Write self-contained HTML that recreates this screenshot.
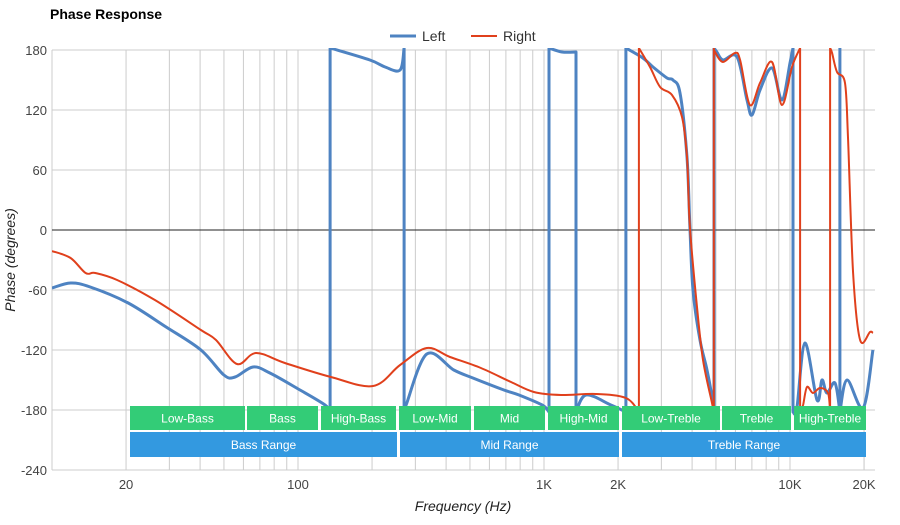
<!DOCTYPE html>
<html><head><meta charset="utf-8"><style>
body{margin:0;background:#fff;font-family:"Liberation Sans",Arial,sans-serif;}
svg text{font-family:"Liberation Sans",Arial,sans-serif;}
</style></head><body>
<svg id="chart" width="900" height="520" viewBox="0 0 900 520" xmlns="http://www.w3.org/2000/svg">
<text x="50" y="19" font-size="14" font-weight="bold" fill="#000">Phase Response</text>
<g>
<g><line x1="390" y1="36" x2="416" y2="36" stroke="#4e83c2" stroke-width="3"/><text x="422" y="41" font-size="14" fill="#333">Left</text></g>
<g><line x1="471" y1="36" x2="497" y2="36" stroke="#e0401c" stroke-width="2"/><text x="503" y="41" font-size="14" fill="#333">Right</text></g>
</g>
<g id="grid"></g>
<g id="series" clip-path="url(#plotclip)"></g>
<defs><clipPath id="plotclip"><rect x="52" y="48" width="823" height="424"/></clipPath></defs>
<g id="bands"></g>
<g id="labels"></g>
<text transform="translate(15,260) rotate(-90)" text-anchor="middle" font-size="14" font-style="italic" fill="#222">Phase (degrees)</text>
<text x="463" y="511" text-anchor="middle" font-size="14" font-style="italic" fill="#222">Frequency (Hz)</text>
</svg>
<script>
const yTicks=[180,120,60,0,-60,-120,-180,-240];
const xTickLabels=[[20,"20"],[100,"100"],[1000,"1K"],[2000,"2K"],[10000,"10K"],[20000,"20K"]];
const leftFreq=[10,11.9,14.3,20.4,29.1,40.3,50,55.5,65.6,76.9,101.9,128.8,135,135,196,226,260,270,270,275,334,430,514,687,791,982,1048,1048,1184,1349,1349,1482,1871,2153,2153,2523,2773,3162,3343,3573,3812,3919,4032,4305,4600,4866,4910,4910,5047,5343,6093,6686,7010,7554,8451,9274,10000,10280,10280,10670,11500,12880,13490,14130,15240,15960,15960,15960,17060,19820,21730];
const leftPhase=[-58,-53,-57,-73,-97,-120,-145,-147,-137,-143,-160,-175,-182,182,170,163,160,182,-182,-175,-124,-140,-148,-160,-165,-175,-182,182,178,178,-182,-165,-175,-182,182,172,163,152,150,137,73,3,-60,-110,-140,-173,-182,182,178,170,173,130,115,140,162,130,167,182,-182,-178,-113,-170,-150,-163,-153,-182,182,-182,-150,-178,-120];
const rightFreq=[10,11.9,13.7,15,18.4,26.2,40.3,46.4,56.5,67.5,88.5,136,202,260,334,415,554,734,910,1172,1627,2153,2432,2432,2698,2964,3314,3640,3812,3919,4188,4430,4820,4900,4900,4955,5343,5973,6266,6873,7554,8451,9274,10190,10990,10990,11300,11720,12390,13240,14270,14550,14550,14830,15520,16730,17220,18050,19280,21140,21730];
const rightPhase=[-21,-28,-43,-43,-50,-70,-100,-110,-134,-123,-133,-147,-156,-135,-118,-127,-138,-152,-162,-165,-164,-168,-182,182,163,143,135,113,73,3,-77,-130,-173,-182,182,178,168,177,170,125,147,168,125,163,182,-182,-175,-157,-163,-158,-163,-182,182,177,158,147,90,-43,-110,-102,-103];
const NS="http://www.w3.org/2000/svg";
const X0=52,X1=875;
function xScale(f){return 298+(Math.log10(f)-2)*246;}
function yScale(p){return 230-p;}
function mk(tag,attrs,parent){const e=document.createElementNS(NS,tag);for(const k in attrs)e.setAttribute(k,attrs[k]);parent.appendChild(e);return e;}
const grid=document.getElementById('grid'),labels=document.getElementById('labels');
for(let d=10;d<=10000;d*=10){for(let m=1;m<=9;m++){const f=d*m;const x=xScale(f);if(x<X0-1||x>X1)continue;
 const l=mk('line',{x1:x,x2:x,y1:50,y2:470,stroke:'#cccccc','stroke-width':1},grid);
 
 }}
{const x=xScale(20000);const l=mk('line',{x1:x,x2:x,y1:50,y2:470,stroke:'#cccccc','stroke-width':1},grid);
 
 }
yTicks.forEach(v=>{const y=yScale(v);
 const l=mk('line',{x1:X0,x2:X1,y1:y,y2:y,stroke:v===0?'#222':'#cccccc','stroke-width':1},grid);
 
 
 const t=mk('text',{x:47,y:y+5,'text-anchor':'end','font-size':13,fill:'#444'},labels);t.textContent=v;
 
 });
xTickLabels.forEach(([f,s])=>{const t=mk('text',{x:xScale(f),y:489,'text-anchor':'middle','font-size':13,fill:'#444'},labels);t.textContent=s;
 
 });
const series=document.getElementById('series');
function smoothPath(fr,ph){
 const P=fr.map((f,i)=>[xScale(f),yScale(ph[i])]);
 // split into segments at jumps (equal x)
 const segs=[];let cur=[P[0]];
 for(let i=1;i<P.length;i++){if(Math.abs(P[i][0]-P[i-1][0])<0.01){segs.push(cur);cur=[P[i]];}else cur.push(P[i]);}
 segs.push(cur);
 let d='';
 segs.forEach((s,si)=>{
  d+=(si===0?'M':'L')+s[0][0].toFixed(1)+','+s[0][1].toFixed(1);
  for(let i=0;i<s.length-1;i++){
   const p0=s[i-1]||s[i],p1=s[i],p2=s[i+1],p3=s[i+2]||s[i+1];
   const c1=[p1[0]+(p2[0]-p0[0])/6,p1[1]+(p2[1]-p0[1])/6];
   const c2=[p2[0]-(p3[0]-p1[0])/6,p2[1]-(p3[1]-p1[1])/6];
   d+='C'+c1[0].toFixed(1)+','+c1[1].toFixed(1)+' '+c2[0].toFixed(1)+','+c2[1].toFixed(1)+' '+p2[0].toFixed(1)+','+p2[1].toFixed(1);
  }
 });
 return d;
}
function draw(fr,ph,color,w,name){
 const p=mk('path',{d:smoothPath(fr,ph),fill:'none',stroke:color,'stroke-width':w,'stroke-linejoin':'round'},series);
 
 }
draw(leftFreq,leftPhase,'#4e83c2',3,'left-series-line');
draw(rightFreq,rightPhase,'#e0401c',2,'right-series-line');
const bands=document.getElementById('bands');
const small=[["Low-Bass",130,245],["Bass",247,318],["High-Bass",321,396],["Low-Mid",399,471],["Mid",474,545],["High-Mid",548,619],["Low-Treble",622,720],["Treble",722,791],["High-Treble",794,866]];
const big=[["Bass Range",130,397],["Mid Range",400,619],["Treble Range",622,866]];
function band(list,y,h,color){list.forEach(([n,a,b])=>{const g=mk('g',{},bands);
 
 
 mk('rect',{x:a,y:y,width:b-a,height:h,fill:color},g);
 const t=mk('text',{x:(a+b)/2,y:y+h/2+4.5,'text-anchor':'middle','font-size':12,fill:'#fff'},g);t.textContent=n;});}
band(small,406,24,'#33cc77');
band(big,432,25,'#3399e0');
</script>
</body></html>
